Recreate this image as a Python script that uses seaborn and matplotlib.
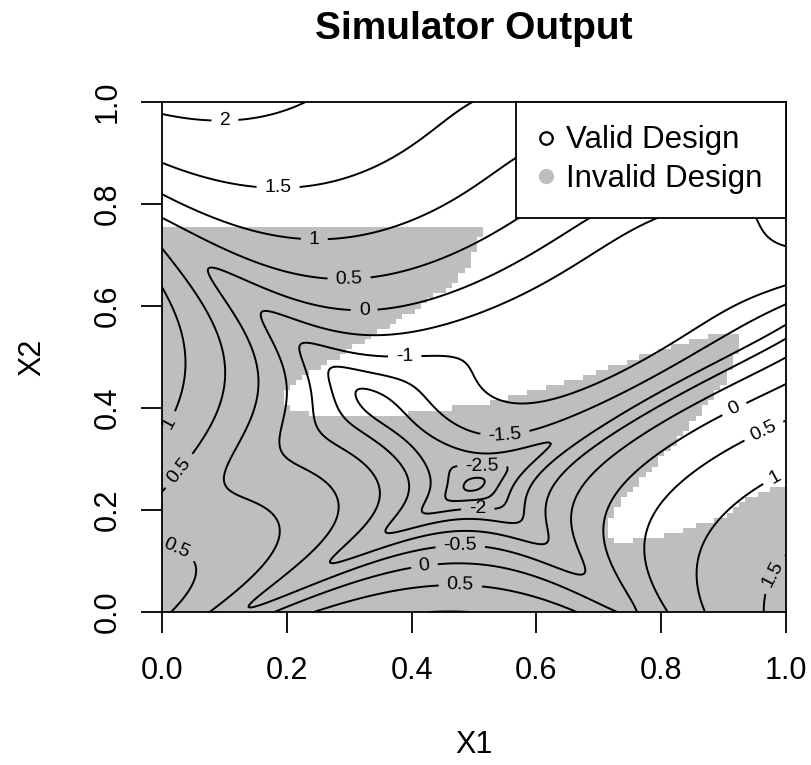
import numpy as np
import matplotlib
matplotlib.use("Agg")
import matplotlib.pyplot as plt
import seaborn as sns
from matplotlib.path import Path
from matplotlib.lines import Line2D
from matplotlib.colors import ListedColormap

# ---- simulator: rescaled log Goldstein-Price function on [0, 1]^2 ----
def simulator(x1, x2):
    u = 4.0 * x1 - 2.0
    v = 4.0 * x2 - 2.0
    a = 1 + (u + v + 1) ** 2 * (19 - 14 * u + 3 * u ** 2 - 14 * v + 6 * u * v + 3 * v ** 2)
    b = 30 + (2 * u - 3 * v) ** 2 * (18 - 32 * u + 12 * u ** 2 + 48 * v - 36 * u * v + 27 * v ** 2)
    return (np.log(a * b) - 8.693) / 2.427

contour_levels = [-3.0, -2.5, -2.0, -1.5, -1.0, -0.5, 0.0, 0.5, 1.0, 1.5, 2.0, 2.5]

# where the contour labels sit (x1, x2)
label_x1 = [0.101, 0.186, 0.244, 0.300, 0.324, 0.389, 0.550, 0.513, 0.506,
            0.478, 0.421, 0.478, 0.918, 0.966, 0.987, 0.982, 0.016, 0.026, 0.024]
label_x2 = [0.957, 0.827, 0.725, 0.645, 0.588, 0.496, 0.343, 0.282, 0.198,
            0.125, 0.086, 0.047, 0.396, 0.351, 0.253, 0.073, 0.367, 0.278, 0.125]

# outline of the invalid-design region (x1, x2)
invalid_x1 = [0.0, 1.0, 1.0, 0.942, 0.900, 0.803, 0.734, 0.715, 0.715, 0.739,
              0.777, 0.819, 0.857, 0.900, 0.921, 0.921, 0.873, 0.830, 0.750,
              0.670, 0.590, 0.536, 0.462, 0.430, 0.360, 0.280, 0.205, 0.189,
              0.192, 0.216, 0.275, 0.333, 0.397, 0.462, 0.494, 0.511, 0.511, 0.0]
invalid_x2 = [0.0, 0.0, 0.249, 0.223, 0.187, 0.148, 0.136, 0.148, 0.174, 0.220,
              0.272, 0.324, 0.383, 0.448, 0.507, 0.543, 0.540, 0.524, 0.494,
              0.458, 0.432, 0.412, 0.400, 0.394, 0.386, 0.384, 0.395, 0.415,
              0.429, 0.455, 0.494, 0.540, 0.586, 0.638, 0.684, 0.743, 0.750, 0.750]

legend_labels = ["Valid Design", "Invalid Design"]
x_ticks = [0.0, 0.2, 0.4, 0.6, 0.8, 1.0]
y_ticks = [0.0, 0.2, 0.4, 0.6, 0.8, 1.0]

sns.set_theme(style="ticks")
plt.rcParams["font.family"] = ["Liberation Sans", "DejaVu Sans"]
plt.rcParams["text.color"] = "black"

W, H = 812, 765
fig = plt.figure(figsize=(W / 100, H / 100), dpi=100)
ax = fig.add_axes([162 / W, 1 - 612 / H, (786 - 162) / W, (612 - 102) / H])

# invalid designs on a regular grid of candidate points (one cell per point)
n = 101
centers = np.linspace(0, 1, n)
edges = np.linspace(-0.005, 1.005, n + 1)
gx, gy = np.meshgrid(centers, centers)
pts = np.clip(np.column_stack([gx.ravel(), gy.ravel()]), 1e-3, 1 - 1e-3)
inside = Path(np.column_stack([invalid_x1, invalid_x2])).contains_points(pts)
mask = np.ma.masked_equal(inside.reshape(n, n).astype(float), 0.0)
ax.pcolormesh(edges, edges, mask, cmap=ListedColormap(["#BEBEBE"]),
              vmin=0, vmax=1, shading="flat", zorder=1, rasterized=True)

# simulator surface
fine = np.linspace(0, 1, 301)
fx, fy = np.meshgrid(fine, fine)
fz = simulator(fx, fy)
cs = ax.contour(fx, fy, fz, levels=contour_levels, colors="black",
                linewidths=1.4, linestyles="solid", zorder=2)

ax.set_xlim(0, 1)
ax.set_ylim(0, 1)

ax.clabel(cs, fmt=lambda v: f"{v:g}", fontsize=14, inline=True,
          inline_spacing=8, manual=list(zip(label_x1, label_x2)))

ax.set_xticks(x_ticks)
ax.set_yticks(y_ticks)
ax.set_xticklabels([f"{t:.1f}" for t in x_ticks])
ax.set_yticklabels([f"{t:.1f}" for t in y_ticks], rotation=90, va="center")
ax.tick_params(axis="both", direction="out", length=15, width=1.3,
               color="black", labelsize=22, labelcolor="black")
ax.tick_params(axis="x", pad=17)
ax.tick_params(axis="y", pad=13)
for sp in ax.spines.values():
    sp.set_color("black")
    sp.set_linewidth(1.3)
    sp.set_zorder(5)
ax.set_xlabel("")
ax.set_ylabel("")

handles = [
    Line2D([], [], linestyle="none", marker="o", markersize=9,
           markerfacecolor="white", markeredgecolor="black", markeredgewidth=1.6),
    Line2D([], [], linestyle="none", marker="o", markersize=10,
           markerfacecolor="#BEBEBE", markeredgecolor="#BEBEBE"),
]
leg = ax.legend(handles, legend_labels, loc="upper right", fontsize=22.5,
                frameon=True, fancybox=False, framealpha=1, edgecolor="black",
                borderaxespad=0, borderpad=0.75, labelspacing=0.28,
                handlelength=0.4, handletextpad=0.45)
leg.get_frame().set_linewidth(1.3)
leg.set_zorder(6)
for t in leg.get_texts():
    t.set_color("black")

fig.text(474 / W, 1 - 29 / H, "Simulator Output", ha="center", va="center",
         fontsize=28, fontweight="bold", color="black")
fig.text(474 / W, 1 - 745 / H, "X1", ha="center", va="center", fontsize=22,
         color="black")
fig.text(32 / W, 1 - 357 / H, "X2", ha="center", va="center", fontsize=22,
         rotation=90, color="black")

fig.savefig("out.png", dpi=100)
